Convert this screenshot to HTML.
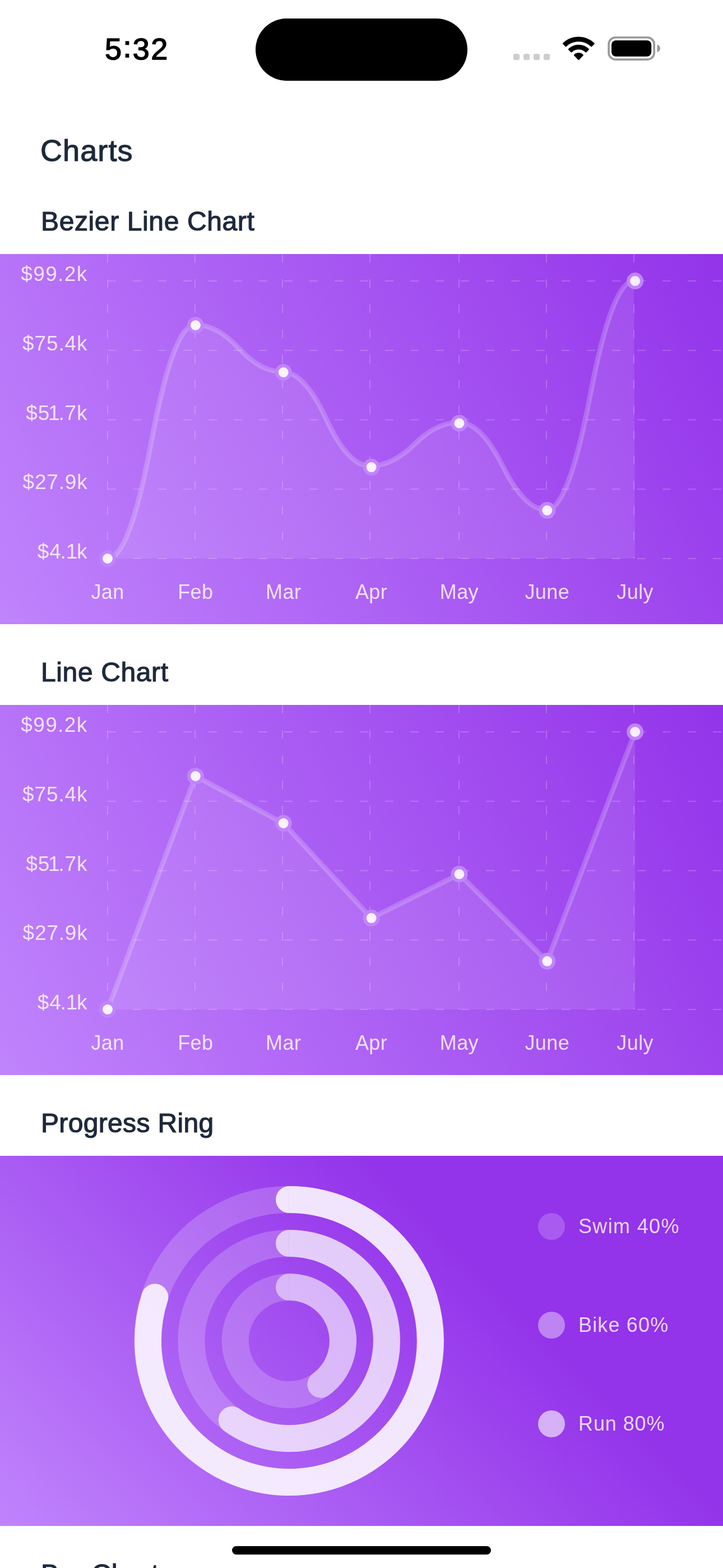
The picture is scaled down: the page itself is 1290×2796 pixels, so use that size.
<!DOCTYPE html>
<html lang="en">
<head>
<meta charset="utf-8">
<meta name="viewport" content="width=1290">
<title>Charts</title>
<style>
html,body{margin:0;padding:0;background:#fff;}
body{width:1290px;height:2796px;position:relative;overflow:hidden;font-family:"Liberation Sans",sans-serif;}
.chart{position:absolute;left:0;display:block;}
.lab text{font-family:"Liberation Sans",sans-serif;font-size:36px;fill:#fff;fill-opacity:0.8;letter-spacing:0.4px;}
.yl text{font-size:37px;}
.lg text{font-size:36px;}
.h{position:absolute;left:72px;margin:0;color:#1e293b;font-weight:400;white-space:nowrap;-webkit-text-stroke:1.2px #1e293b;}
.h1{font-size:54px;line-height:64px;top:236px;letter-spacing:1.1px;}
.h2{font-size:48px;line-height:58px;letter-spacing:0.62px;left:73px;}
.time{position:absolute;left:187px;top:57px;font-size:54px;line-height:60px;font-weight:400;color:#000;letter-spacing:2.4px;-webkit-text-stroke:1.5px #000;white-space:nowrap;}
.time span{position:relative;top:-4px;}
.island{position:absolute;left:456px;top:33px;width:378px;height:111px;border-radius:56px;background:#000;}
.home{position:absolute;left:414px;top:2757px;width:462px;height:15px;border-radius:8px;background:#000;z-index:5;}
.status{position:absolute;left:880px;top:40px;}
</style>
</head>
<body>
<div class="time">5<span>:</span>32</div>
<div class="island"></div>
<svg class="status" width="320" height="100" viewBox="880 40 320 100">
<g fill="#cdcdcd"><rect x="916" y="96" width="11" height="11" rx="3"/><rect x="934" y="96" width="11" height="11" rx="3"/><rect x="952" y="96" width="11" height="11" rx="3"/><rect x="970" y="96" width="11" height="11" rx="3"/></g>
<path d="M1005.17,77.60 A39.2,39.2 0 0 1 1059.63,77.60 L1055.22,82.17 A32.85,32.85 0 0 0 1009.58,82.17 Z M1015.10,87.89 A24.9,24.9 0 0 1 1049.70,87.89 L1045.39,92.35 A18.7,18.7 0 0 0 1019.41,92.35 Z M1025.11,98.25 A10.5,10.5 0 0 1 1039.69,98.25 L1032.4,105.8 Z" fill="#000" stroke="#000" stroke-width="2.4" stroke-linejoin="round"/>
<rect x="1086.1" y="66.8" width="81.1" height="39.3" rx="12.2" fill="none" stroke="#999" stroke-width="3.6"/>
<rect x="1091" y="72" width="71.2" height="28.8" rx="8" fill="#000"/>
<path d="M1172.5,79.5 C1176,80.7 1178,83.3 1178,86.3 C1178,89.3 1176,91.9 1172.5,93.1 Z" fill="#999"/>
</svg>
<h1 class="h h1">Charts</h1>
<h2 class="h h2" style="top:366px">Bezier Line Chart</h2>
<svg class="chart" style="top:453px" width="1290" height="660" viewBox="0 0 1290 660">
<defs>
<linearGradient id="bga" x1="0" y1="660" x2="1290" y2="0" gradientUnits="userSpaceOnUse"><stop offset="0" stop-color="#c084fc"/><stop offset="1" stop-color="#9333ea"/></linearGradient>
<linearGradient id="sha" x1="0" y1="0" x2="0" y2="660" gradientUnits="userSpaceOnUse"><stop offset="0" stop-color="#fff" stop-opacity="0.1"/><stop offset="1" stop-color="#fff" stop-opacity="0.1"/></linearGradient>
</defs>
<rect width="1290" height="660" fill="url(#bga)"/>
<g stroke="#fff" stroke-opacity="0.2" stroke-width="2" stroke-dasharray="15 30" fill="none">
<line x1="192" y1="48" x2="1290" y2="48"/>
<line x1="192" y1="171.75" x2="1290" y2="171.75"/>
<line x1="192" y1="295.5" x2="1290" y2="295.5"/>
<line x1="192" y1="419.25" x2="1290" y2="419.25"/>
<line x1="192" y1="543" x2="1290" y2="543"/>
<line x1="192" y1="0" x2="192" y2="543"/>
<line x1="348" y1="0" x2="348" y2="543"/>
<line x1="504" y1="0" x2="504" y2="543"/>
<line x1="660" y1="0" x2="660" y2="543"/>
<line x1="819" y1="0" x2="819" y2="543"/>
<line x1="975" y1="0" x2="975" y2="543"/>
<line x1="1131" y1="0" x2="1131" y2="543"/>
</g>
<g class="lab yl" text-anchor="end">
<text x="156.5" y="48" style="letter-spacing:1.35px">$99.2k</text>
<text x="156.5" y="171.75" style="letter-spacing:0.9px">$75.4k</text>
<text x="156.5" y="295.5" style="letter-spacing:0.9px">$5<tspan dx="-3.4">1</tspan><tspan dx="-3">.</tspan>7k</text>
<text x="156.5" y="419.25" style="letter-spacing:0.8px">$27.9k</text>
<text x="156.5" y="543" style="letter-spacing:0.9px">$4<tspan dx="-2.1">.</tspan><tspan dx="-1">1</tspan><tspan dx="-2.2">k</tspan></text>
</g>
<g class="lab" text-anchor="middle">
<text x="192" y="615">Jan</text>
<text x="348.86" y="615">Feb</text>
<text x="505.71" y="615">Mar</text>
<text x="662.57" y="615">Apr</text>
<text x="819.43" y="615">May</text>
<text x="976.29" y="615">June</text>
<text x="1133.14" y="615">July</text>
</g>
<path d="M192,543 Q231,543 270,334.5 Q309,126 348,126 Q387,126 426,168 Q465,210 504,210 Q543,210 582,294 Q621,378 660,378 Q699.75,378 739.5,339 Q779.25,300 819,300 Q858,300 897,378 Q936,456 975,456 Q1014,456 1053,252 Q1092,48 1131,48 L1133.14,543 L192,543 Z" fill="url(#sha)"/>
<path d="M192,543 Q231,543 270,334.5 Q309,126 348,126 Q387,126 426,168 Q465,210 504,210 Q543,210 582,294 Q621,378 660,378 Q699.75,378 739.5,339 Q779.25,300 819,300 Q858,300 897,378 Q936,456 975,456 Q1014,456 1053,252 Q1092,48 1131,48" fill="none" stroke="#fff" stroke-opacity="0.2" stroke-width="9"/>
<g fill="#fff" fill-opacity="0.9" stroke="#c084fc" stroke-width="6">
<circle cx="192" cy="543" r="12"/>
<circle cx="348.86" cy="126.99" r="12"/>
<circle cx="505.71" cy="210.99" r="12"/>
<circle cx="662.57" cy="380.07" r="12"/>
<circle cx="819.43" cy="301.74" r="12"/>
<circle cx="976.29" cy="457.08" r="12"/>
<circle cx="1133.14" cy="48" r="12"/>
</g>
</svg>
<h2 class="h h2" style="top:1170px">Line Chart</h2>
<svg class="chart" style="top:1257px" width="1290" height="660" viewBox="0 0 1290 660">
<defs>
<linearGradient id="bgb" x1="0" y1="660" x2="1290" y2="0" gradientUnits="userSpaceOnUse"><stop offset="0" stop-color="#c084fc"/><stop offset="1" stop-color="#9333ea"/></linearGradient>
<linearGradient id="shb" x1="0" y1="0" x2="0" y2="660" gradientUnits="userSpaceOnUse"><stop offset="0" stop-color="#fff" stop-opacity="0.1"/><stop offset="1" stop-color="#fff" stop-opacity="0.1"/></linearGradient>
</defs>
<rect width="1290" height="660" fill="url(#bgb)"/>
<g stroke="#fff" stroke-opacity="0.2" stroke-width="2" stroke-dasharray="15 30" fill="none">
<line x1="192" y1="48" x2="1290" y2="48"/>
<line x1="192" y1="171.75" x2="1290" y2="171.75"/>
<line x1="192" y1="295.5" x2="1290" y2="295.5"/>
<line x1="192" y1="419.25" x2="1290" y2="419.25"/>
<line x1="192" y1="543" x2="1290" y2="543"/>
<line x1="192" y1="0" x2="192" y2="543"/>
<line x1="348" y1="0" x2="348" y2="543"/>
<line x1="504" y1="0" x2="504" y2="543"/>
<line x1="660" y1="0" x2="660" y2="543"/>
<line x1="819" y1="0" x2="819" y2="543"/>
<line x1="975" y1="0" x2="975" y2="543"/>
<line x1="1131" y1="0" x2="1131" y2="543"/>
</g>
<g class="lab yl" text-anchor="end">
<text x="156.5" y="48" style="letter-spacing:1.35px">$99.2k</text>
<text x="156.5" y="171.75" style="letter-spacing:0.9px">$75.4k</text>
<text x="156.5" y="295.5" style="letter-spacing:0.9px">$5<tspan dx="-3.4">1</tspan><tspan dx="-3">.</tspan>7k</text>
<text x="156.5" y="419.25" style="letter-spacing:0.8px">$27.9k</text>
<text x="156.5" y="543" style="letter-spacing:0.9px">$4<tspan dx="-2.1">.</tspan><tspan dx="-1">1</tspan><tspan dx="-2.2">k</tspan></text>
</g>
<g class="lab" text-anchor="middle">
<text x="192" y="615">Jan</text>
<text x="348.86" y="615">Feb</text>
<text x="505.71" y="615">Mar</text>
<text x="662.57" y="615">Apr</text>
<text x="819.43" y="615">May</text>
<text x="976.29" y="615">June</text>
<text x="1133.14" y="615">July</text>
</g>
<path d="M192,543 L348.86,126.99 L505.71,210.99 L662.57,380.07 L819.43,301.74 L976.29,457.08 L1133.14,48 L1133.14,543 L192,543 Z" fill="url(#shb)"/>
<path d="M192,543 L348.86,126.99 L505.71,210.99 L662.57,380.07 L819.43,301.74 L976.29,457.08 L1133.14,48" fill="none" stroke="#fff" stroke-opacity="0.2" stroke-width="9"/>
<g fill="#fff" fill-opacity="0.9" stroke="#c084fc" stroke-width="6">
<circle cx="192" cy="543" r="12"/>
<circle cx="348.86" cy="126.99" r="12"/>
<circle cx="505.71" cy="210.99" r="12"/>
<circle cx="662.57" cy="380.07" r="12"/>
<circle cx="819.43" cy="301.74" r="12"/>
<circle cx="976.29" cy="457.08" r="12"/>
<circle cx="1133.14" cy="48" r="12"/>
</g>
</svg>
<h2 class="h h2" style="top:1974px;letter-spacing:0.34px">Progress Ring</h2>
<svg class="chart" style="top:2061px" width="1290" height="660" viewBox="0 0 1290 660">
<defs>
<linearGradient id="bgc" x1="0" y1="660" x2="660" y2="0" gradientUnits="userSpaceOnUse"><stop offset="0" stop-color="#c084fc"/><stop offset="1" stop-color="#9333ea"/></linearGradient>
<linearGradient id="shc" x1="0" y1="0" x2="0" y2="660" gradientUnits="userSpaceOnUse"><stop offset="0" stop-color="#fff" stop-opacity="0.1"/><stop offset="1" stop-color="#fff" stop-opacity="0.1"/></linearGradient>
</defs>
<rect width="1290" height="660" fill="url(#bgc)"/>
<g transform="translate(516 330)" fill="none" stroke="#fff" stroke-width="48">
<path d="M0,-96 A96,96 0 1 1 -0.6,-96" stroke-opacity="0.2"/>
<path d="M0,-174 A174,174 0 1 1 -1.09,-174" stroke-opacity="0.2"/>
<path d="M0,-252 A252,252 0 1 1 -1.58,-252" stroke-opacity="0.2"/>
<path d="M0,-96 A96,96 0 0 1 56.43,77.67" stroke-opacity="0.500" stroke-linecap="round"/>
<path d="M0,-174 A174,174 0 1 1 -102.27,140.77" stroke-opacity="0.667" stroke-linecap="round"/>
<path d="M0,-252 A252,252 0 1 1 -239.67,-77.87" stroke-opacity="0.833" stroke-linecap="round"/>
</g>
<circle cx="984" cy="126" r="24" fill="#fff" fill-opacity="0.2"/>
<circle cx="984" cy="302" r="24" fill="#fff" fill-opacity="0.4"/>
<circle cx="984" cy="478" r="24" fill="#fff" fill-opacity="0.6"/>
<g class="lab lg">
<text x="1032" y="138" style="letter-spacing:1.35px">Swim 40%</text>
<text x="1032" y="314" style="letter-spacing:1.15px">Bike 60%</text>
<text x="1032" y="490" style="letter-spacing:0.9px">Run 80%</text>
</g>
</svg>
<h2 class="h h2" style="top:2778px">Bar Chart</h2>
<div class="home"></div>
</body>
</html>
